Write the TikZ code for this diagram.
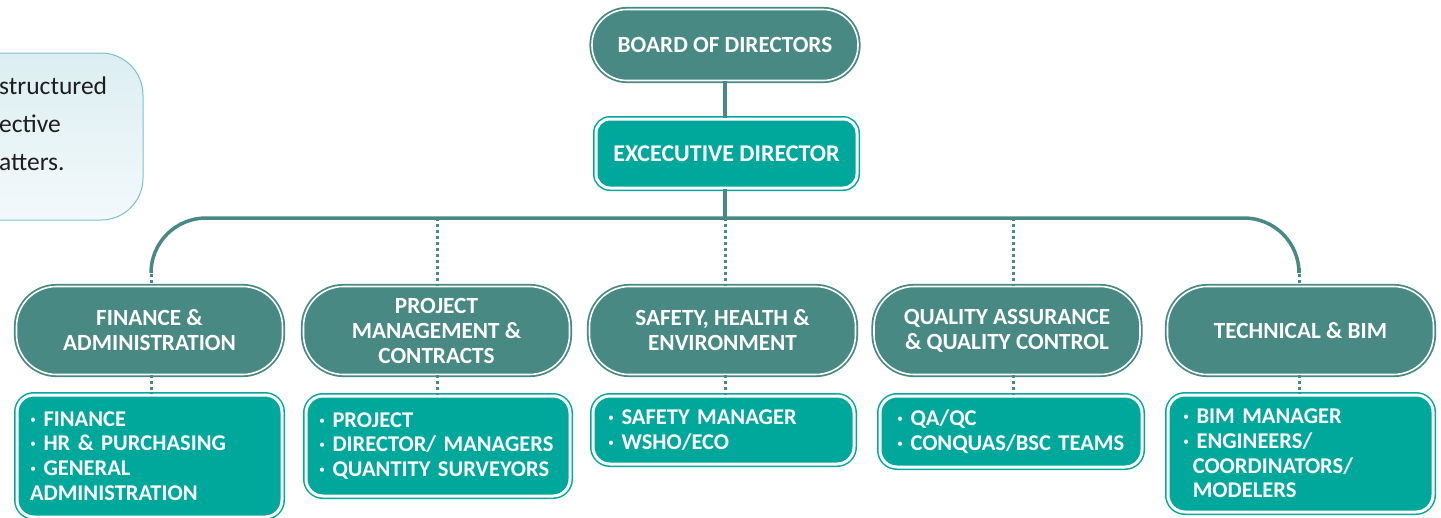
\documentclass[tikz,border=0pt]{standalone}
\usepackage{fontspec}
\setmainfont{Carlito}
\definecolor{dk}{HTML}{488983}
\definecolor{tl}{HTML}{00A89C}
\definecolor{notetop}{HTML}{DCEEF2}
\definecolor{notebot}{HTML}{F3F9FB}
\definecolor{noteline}{HTML}{79C2D0}
\definecolor{notetext}{HTML}{1E1E1E}
\begin{document}
\begin{tikzpicture}[x=1pt,y=-1pt,
  pill/.style={draw=dk, double=white, double distance=1.6pt, line width=1.8pt,
    fill=dk, rounded corners=#1, text=white,
    font=\bfseries\fontsize{23.2}{25}\selectfont, align=center, inner sep=0pt},
  pill/.default=40pt,
  subbox/.style={draw=tl, double=white, double distance=3pt, line width=1.5pt,
    fill=tl, rounded corners=#1, text=white,
    font=\bfseries\fontsize{22.5}{24.7}\selectfont, align=left, inner sep=0pt},
  subbox/.default=17pt,
  solidline/.style={draw=dk, line width=3.5pt},
  dotline/.style={draw=dk, line width=3pt, dash pattern=on 3pt off 3pt},
  notefont/.style={font=\fontsize{25.5}{30}\selectfont, text=notetext, inner sep=0pt, anchor=base west}]
\useasboundingbox (0,0) rectangle (1441,517);
\clip (0,0) rectangle (1441,517);

% callout box (cut off at left)
\shadedraw[top color=notetop, bottom color=notebot, draw=noteline, line width=1pt, rounded corners=42pt]
  (-250,53) rectangle (143,220);
\node[notefont] (n1) at (-1,94) {structured};
\node[notefont] (n2) at (-1,132) {ective};
\node[notefont] (n3) at (-1,170) {atters.};

% top nodes
\node[pill=35pt, minimum width=266pt, minimum height=71pt] (board) at (725,45) {BOARD OF DIRECTORS};
\node[subbox=14pt, align=center, font=\bfseries\fontsize{24}{26}\selectfont,
  minimum width=261pt, minimum height=69pt] (exec) at (726.5,153.5) {EXCECUTIVE DIRECTOR};

% departments
\node[pill, minimum width=266pt, minimum height=88pt] (fin) at (149.5,330.5) {FINANCE \&\\ADMINISTRATION};
\node[pill, minimum width=266pt, minimum height=88pt] (proj) at (436.5,330.5) {PROJECT\\MANAGEMENT \&\\CONTRACTS};
\node[pill, minimum width=266pt, minimum height=88pt] (saf) at (722.5,330.5) {SAFETY, HEALTH \&\\ENVIRONMENT};
\node[pill, minimum width=266pt, minimum height=88pt] (qa) at (1007,330.5) {QUALITY ASSURANCE\\\& QUALITY CONTROL};
\node[pill, minimum width=266pt, minimum height=88pt] (tech) at (1300.5,330.5) {TECHNICAL \& BIM};

% sub boxes
\node[subbox, text width=239pt, minimum width=265pt, minimum height=122pt] (finsub) at (149.5,456)
  {\mbox{· FINANCE}\\\mbox{· HR \& PURCHASING}\\\mbox{· GENERAL}\\\mbox{ADMINISTRATION}};
\node[subbox, text width=238pt, minimum width=264pt, minimum height=100pt] (projsub) at (438,446)
  {\mbox{· PROJECT}\\\mbox{· DIRECTOR/ MANAGERS}\\\mbox{· QUANTITY SURVEYORS}};
\node[subbox, text width=231pt, minimum width=261pt, minimum height=68pt] (safsub) at (723.5,430)
  {\mbox{· SAFETY MANAGER}\\\mbox{· WSHO/ECO}};
\node[subbox, text width=228pt, minimum width=262pt, minimum height=71pt] (qasub) at (1011,431.5)
  {\mbox{· QA/QC}\\\mbox{· CONQUAS/BSC TEAMS}};
\node[subbox, text width=235pt, minimum width=265pt, minimum height=117pt] (techsub) at (1300.5,453.5)
  {\mbox{· BIM MANAGER}\\\mbox{· ENGINEERS/}\\\mbox{\phantom{·\,}COORDINATORS/}\\\mbox{\phantom{·\,}MODELERS}};

% connectors
\coordinate (hc) at (725,218);
\coordinate (lb) at (151,268);
\coordinate (rb) at (1299,268);
\coordinate (p2) at (437,218);
\coordinate (p4) at (1013,218);

\draw[solidline] (board.south -| hc) -- (exec.north -| hc);
\draw[solidline] (exec.south -| hc) -- (hc);
\draw[solidline, rounded corners=55pt] (lb) -- (lb |- hc) -- (rb |- hc) -- (rb);

\draw[dotline] (lb) -- (lb |- fin.north);
\draw[dotline] (p2) -- (p2 |- proj.north);
\draw[dotline] (hc) -- (hc |- saf.north);
\draw[dotline] (p4) -- (p4 |- qa.north);
\draw[dotline] (rb) -- (rb |- tech.north);

\draw[dotline] (fin.south -| lb) -- (finsub.north -| lb);
\draw[dotline] (proj.south -| p2) -- (projsub.north -| p2);
\draw[dotline] (saf.south -| hc) -- (safsub.north -| hc);
\draw[dotline] (qa.south -| p4) -- (qasub.north -| p4);
\draw[dotline] (tech.south -| rb) -- (techsub.north -| rb);
\end{tikzpicture}
\end{document}
